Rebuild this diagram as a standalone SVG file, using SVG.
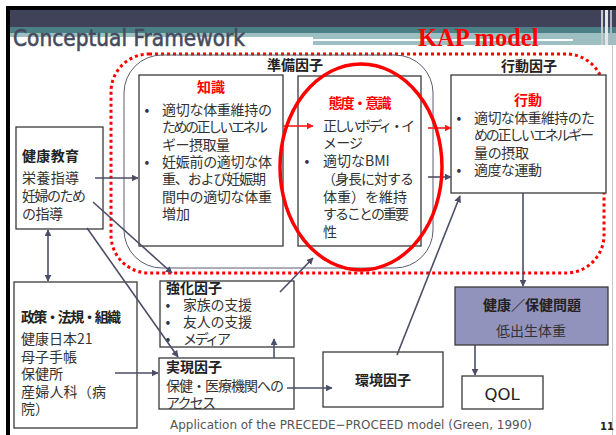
<svg xmlns="http://www.w3.org/2000/svg" width="616" height="435" viewBox="0 0 616 435">
<defs>
<style>
.jp{font-family:"Noto Sans CJK JP","Noto Sans",sans-serif;font-size:14px;fill:#333}
.b{font-weight:bold;fill:#222}
.red{fill:#ff0000;font-weight:bold}
.box{fill:#fff;stroke:#3a3a3a;stroke-width:1.3}
.con{stroke:#4b4e66;stroke-width:1.6;fill:none}
.rcon{stroke:#ff1a1a;stroke-width:1.6;fill:none}
</style>
<marker id="ah" viewBox="0 0 10 10" refX="9" refY="5" markerWidth="7" markerHeight="7" markerUnits="userSpaceOnUse" orient="auto-start-reverse"><path d="M0,0 L10,5 L0,10 z" fill="#4b4e66"/></marker>
<marker id="rah" viewBox="0 0 10 10" refX="9" refY="5" markerWidth="7" markerHeight="7" markerUnits="userSpaceOnUse" orient="auto"><path d="M0,0 L10,5 L0,10 z" fill="#ff1a1a"/></marker>
</defs>
<rect width="616" height="435" fill="#fff"/>
<g id="header">
<rect x="6" y="6" width="610" height="4" fill="#000"/>
<rect x="6" y="6" width="4" height="429" fill="#000"/>
<rect x="10" y="10" width="606" height="17" fill="#40425a"/>
<rect x="10" y="27" width="606" height="6" fill="#4b8086"/>
<rect x="10" y="33" width="303" height="4" fill="#9dbfc1"/>
<rect x="313" y="33" width="303" height="12" fill="#9dbfc1"/>
<rect x="313" y="39" width="260" height="2" fill="#fff"/>
<rect x="601" y="10" width="2" height="35" fill="#c8cad0"/>
<rect x="605" y="10" width="3" height="35" fill="#e6e7ea"/>
<rect x="610" y="10" width="2" height="35" fill="#b0b3bb"/>
<line x1="612.5" y1="45" x2="612.5" y2="435" stroke="#c8c8c8" stroke-width="1"/>
<text x="13" y="46" font-family="DejaVu Sans,Verdana,sans-serif" font-size="22.5" fill="#474a5e" stroke="#474a5e" stroke-width="0.6" textLength="232" lengthAdjust="spacingAndGlyphs">Conceptual Framework</text>
<text x="418" y="46" font-family="Liberation Serif,serif" font-weight="bold" font-size="24.5" fill="#ff0000">KAP model</text>
</g>
<g id="groups">
<rect x="111" y="54" width="493" height="219" rx="38" ry="38" fill="none" stroke="#ff0000" stroke-width="3" stroke-dasharray="3 3"/>
<rect x="124" y="55" width="309" height="213" rx="38" ry="38" fill="none" stroke="#5a5d70" stroke-width="1"/>
<text class="jp b" x="295" y="70" text-anchor="middle" font-size="13.5">準備因子</text>
<text class="jp b" x="529" y="71" text-anchor="middle" font-size="13.5">行動因子</text>
</g>
<g id="knowledge">
<rect class="box" x="139" y="75" width="144" height="171"/>
<text class="jp red" x="211" y="92" text-anchor="middle">知識</text>
<text class="jp" text-anchor="middle"><tspan x="147" y="115">•</tspan><tspan x="147" y="167">•</tspan></text>
<text class="jp" lengthAdjust="spacing"><tspan x="162" y="115" textLength="110">適切な体重維持の</tspan><tspan x="162" y="132" textLength="106">ための正しいエネル</tspan><tspan x="162" y="150" textLength="68">ギー摂取量</tspan><tspan x="162" y="167" textLength="110">妊娠前の適切な体</tspan><tspan x="162" y="184" textLength="104">重、および妊娠期</tspan><tspan x="162" y="202" textLength="110">間中の適切な体重</tspan><tspan x="162" y="219">増加</tspan></text>
</g>
<g id="attitude">
<rect class="box" x="298" y="76" width="123" height="170"/>
<text class="jp red" x="360" y="108" text-anchor="middle" textLength="63" lengthAdjust="spacing">態度・意識</text>
<text class="jp" x="307" y="166" text-anchor="middle">•</text>
<text class="jp" lengthAdjust="spacing"><tspan x="323" y="131" textLength="92">正しいボディ・イ</tspan><tspan x="323" y="148" textLength="40">メージ</tspan><tspan x="323" y="166">適切なBMI</tspan><tspan x="322" y="184" textLength="92">（身長に対する</tspan><tspan x="323" y="202" textLength="84">体重）を維持</tspan><tspan x="323" y="219" textLength="86">することの重要</tspan><tspan x="323" y="237">性</tspan></text>
</g>
<g id="behavior">
<rect class="box" x="451" y="75" width="155" height="118"/>
<text class="jp red" x="528" y="105" text-anchor="middle">行動</text>
<text class="jp" text-anchor="middle"><tspan x="459" y="123">•</tspan><tspan x="459" y="175">•</tspan></text>
<text class="jp" lengthAdjust="spacing"><tspan x="474" y="123" textLength="121">適切な体重維持のた</tspan><tspan x="474" y="140" textLength="120">めの正しいエネルギー</tspan><tspan x="474" y="158" textLength="55">量の摂取</tspan><tspan x="474" y="175" textLength="68">適度な運動</tspan></text>
</g>
<g id="education">
<rect class="box" x="16" y="127" width="87" height="102"/>
<text class="jp b" x="22" y="161" textLength="57" lengthAdjust="spacing">健康教育</text>
<text class="jp" lengthAdjust="spacing"><tspan x="22" y="183" textLength="57">栄養指導</tspan><tspan x="22" y="201" textLength="64">妊婦のため</tspan><tspan x="22" y="219" textLength="41">の指導</tspan></text>
</g>
<g id="policy">
<rect class="box" x="14" y="282" width="123" height="146"/>
<text class="jp b" x="21" y="322" textLength="100" lengthAdjust="spacing">政策・法規・組織</text>
<text class="jp" lengthAdjust="spacing"><tspan x="21" y="344">健康日本21</tspan><tspan x="21" y="362" textLength="56">母子手帳</tspan><tspan x="21" y="379" textLength="42">保健所</tspan><tspan x="21" y="397" textLength="85">産婦人科（病</tspan><tspan x="21" y="414">院）</tspan></text>
</g>
<g id="reinforcing">
<rect class="box" x="160" y="281" width="134" height="66"/>
<text class="jp b" x="166" y="293" textLength="56" lengthAdjust="spacing">強化因子</text>
<text class="jp" text-anchor="middle"><tspan x="168" y="310">•</tspan><tspan x="168" y="327">•</tspan><tspan x="168" y="344">•</tspan></text>
<text class="jp" lengthAdjust="spacing"><tspan x="183" y="310" textLength="69">家族の支援</tspan><tspan x="183" y="327" textLength="69">友人の支援</tspan><tspan x="183" y="344" textLength="48">メディア</tspan></text>
</g>
<g id="enabling">
<rect class="box" x="159" y="358" width="135" height="51"/>
<text class="jp b" x="166" y="372" textLength="56" lengthAdjust="spacing">実現因子</text>
<text class="jp" lengthAdjust="spacing"><tspan x="166" y="391" textLength="118">保健・医療機関への</tspan><tspan x="166" y="408" textLength="50">アクセス</tspan></text>
</g>
<g id="environment">
<rect class="box" x="323" y="352" width="120" height="55"/>
<text class="jp b" x="383" y="385" text-anchor="middle">環境因子</text>
</g>
<g id="health">
<rect x="455" y="287" width="153" height="58" fill="#9293bd" stroke="#3a3a3a" stroke-width="1.3"/>
<text class="jp b" x="532" y="310" text-anchor="middle">健康／保健問題</text>
<text class="jp" x="531" y="336" text-anchor="middle">低出生体重</text>
</g>
<g id="qol">
<rect class="box" x="462" y="376" width="81" height="33"/>
<text x="502" y="400" text-anchor="middle" font-family="DejaVu Sans,Verdana,sans-serif" font-size="16.5" fill="#222">QOL</text>
</g>
<g id="connectors">
<line class="con" x1="95" y1="178" x2="138" y2="178" marker-end="url(#ah)"/>
<line class="con" x1="93" y1="202" x2="172" y2="273" marker-end="url(#ah)"/>
<line class="con" x1="87" y1="228" x2="178" y2="357" marker-end="url(#ah)"/>
<line class="con" x1="48" y1="230" x2="48" y2="281" marker-start="url(#ah)" marker-end="url(#ah)"/>
<line class="con" x1="115" y1="373" x2="158" y2="373" marker-end="url(#ah)"/>
<line class="con" x1="274" y1="358" x2="274" y2="339" marker-end="url(#ah)"/>
<line class="con" x1="280" y1="292" x2="313" y2="258" marker-end="url(#ah)"/>
<line class="con" x1="287" y1="388" x2="332" y2="388" marker-end="url(#ah)"/>
<line class="con" x1="397" y1="355" x2="460" y2="196" marker-end="url(#ah)"/>
<line class="con" x1="523" y1="193" x2="523" y2="286" marker-end="url(#ah)"/>
<line class="con" x1="475" y1="345" x2="475" y2="375" marker-end="url(#ah)"/>
<line class="con" x1="428" y1="177" x2="451" y2="177" marker-end="url(#ah)"/>
<line class="rcon" x1="283" y1="126" x2="313" y2="126" marker-end="url(#rah)"/>
<line class="rcon" x1="428" y1="128" x2="451" y2="128" marker-end="url(#rah)"/>
</g>
<ellipse id="highlight" cx="361" cy="167" rx="81" ry="103" fill="none" stroke="#ff0000" stroke-width="3.5"/>
<g id="caption">
<text x="170" y="429" font-family="DejaVu Sans,Verdana,sans-serif" font-size="12.5" fill="#555" textLength="362" lengthAdjust="spacingAndGlyphs">Application of the PRECEDE−PROCEED model (Green, 1990)</text>
<text x="600" y="430" font-family="DejaVu Sans,Verdana,sans-serif" font-size="10" font-weight="bold" fill="#222">11</text>
</g>
</svg>
